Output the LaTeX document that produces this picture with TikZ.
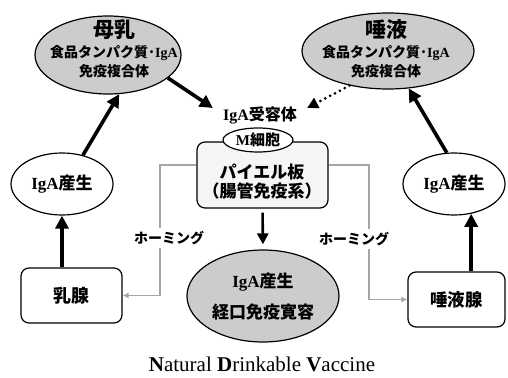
\documentclass[tikz,border=0pt]{standalone}
\usepackage{fontspec}
\setmainfont{Liberation Serif}
\newfontfamily\jp{Noto Sans CJK JP}
\usetikzlibrary{shapes.geometric,arrows.meta}
\newcommand\lat[1]{{\rmfamily\bfseries #1}}
\newcommand\fs[1]{\fontsize{#1}{#1}\selectfont}
\definecolor{cellgray}{RGB}{204,204,204}
\definecolor{boxgray}{RGB}{245,245,245}
\definecolor{homegray}{RGB}{165,165,165}
\begin{document}
\begin{tikzpicture}[x=1pt,y=-1pt,
  every node/.style={font=\jp\bfseries\fs{17}, inner sep=0pt},
  ell/.style={ellipse, draw, line width=1.2pt, fill=#1},
  ell/.default=white,
  rbox/.style={rectangle, rounded corners=8pt, draw, line width=1.2pt, fill=#1},
  rbox/.default=white,
  thickarrow/.style={line width=3.6pt, -{Triangle[length=13pt,width=13pt]}},
  dotarrow/.style={line width=3pt, line cap=round, dash pattern=on 0pt off 5.5pt, -{Triangle[length=11pt,width=11pt]}},
  midarrow/.style={line width=2.6pt, -{Triangle[length=11pt,width=11pt]}},
  homeline/.style={homegray, line width=1.8pt, -{Latex[length=6pt,width=6pt]}},
  homelabel/.style={fill=white, inner sep=3pt, font=\jp\bfseries\fs{14}}
]
\useasboundingbox[fill=white] (0,0) rectangle (508,377);

% top ellipses
\node[ell=cellgray, minimum width=146pt, minimum height=78pt] (boL) at (108,55) {};
\node[font=\jp\bfseries\fs{21}] (boLt) at (114,30) {母乳};
\node[font=\jp\bfseries\fs{14}] (boL2) at (114,53) {食品タンパク質･\lat{IgA}};
\node[font=\jp\bfseries\fs{14}] (boL3) at (114,71) {免疫複合体};

\node[ell=cellgray, minimum width=172pt, minimum height=76pt] (saL) at (388,51) {};
\node[font=\jp\bfseries\fs{21}] (saLt) at (386,30) {唾液};
\node[font=\jp\bfseries\fs{14}] (saL2) at (386,53) {食品タンパク質･\lat{IgA}};
\node[font=\jp\bfseries\fs{14}] (saL3) at (386,71) {免疫複合体};

% center
\node[font=\jp\bfseries\fs{16}] (rec) at (260,115) {\lat{IgA}受容体};
\node[rbox=boxgray, minimum width=131pt, minimum height=66pt] (pb) at (262.5,175) {};
\node (pb1) at (262,172) {パイエル板};
\node (pb2) at (262,191) {\kern-0.2em（腸管免疫系）\kern-0.2em};
\node[ell, minimum width=70pt, minimum height=24pt, font=\jp\bfseries\fs{15}] (mc) at (258,140) {\lat{M}細胞};

\node[ell=cellgray, minimum width=152pt, minimum height=92pt] (bt) at (263,296) {};
\node (bt1) at (263,282) {\lat{IgA}産生};
\node (bt2) at (263,312) {経口免疫寛容};

% sides
\node[ell, minimum width=102pt, minimum height=62pt] (ipL) at (62,184) {\lat{IgA}産生};
\node[ell, minimum width=102pt, minimum height=62pt] (ipR) at (454,184) {\lat{IgA}産生};
\node[rbox, minimum width=101pt, minimum height=55pt, font=\jp\bfseries\fs{18}] (ml) at (71.5,295.5) {乳腺};
\node[rbox, minimum width=97pt, minimum height=55pt, font=\jp\bfseries\fs{17.5}] (sg) at (456.5,299.5) {唾液腺};

% homing lines
\coordinate (gl) at (160,165);
\coordinate (gr) at (369,165);
\draw[homeline] (pb.west |- gl) -- (gl) |- (ml.east);
\draw[homeline] (pb.east |- gr) -- (gr) |- (sg.west);
\node[homelabel] (hmL) at (169,238) {ホーミング};
\node[homelabel] (hmR) at (354,239) {ホーミング};

% arrows
\draw[thickarrow] (ipL.south |- ml.north) -- (ipL.south);
\draw[thickarrow] (ipR.-60 |- sg.north) -- (ipR.-60);
\draw[thickarrow] (ipL.54) -- (boL.-74);
\draw[thickarrow] (ipR.103) -- (saL.-61);
\draw[thickarrow] (boL.-21) -- ([xshift=-10pt,yshift=7pt]rec.west);
\draw[dotarrow] (saL.-138) -- ([xshift=10pt,yshift=7pt]rec.east);
\draw[midarrow, shorten <=4pt, shorten >=5pt] (pb.south) -- (bt.north);

% caption
\node[font=\rmfamily\mdseries\fs{21}] (cap) at (262,364) {\textbf{N}atural \textbf{D}rinkable \textbf{V}accine};
\end{tikzpicture}
\end{document}
